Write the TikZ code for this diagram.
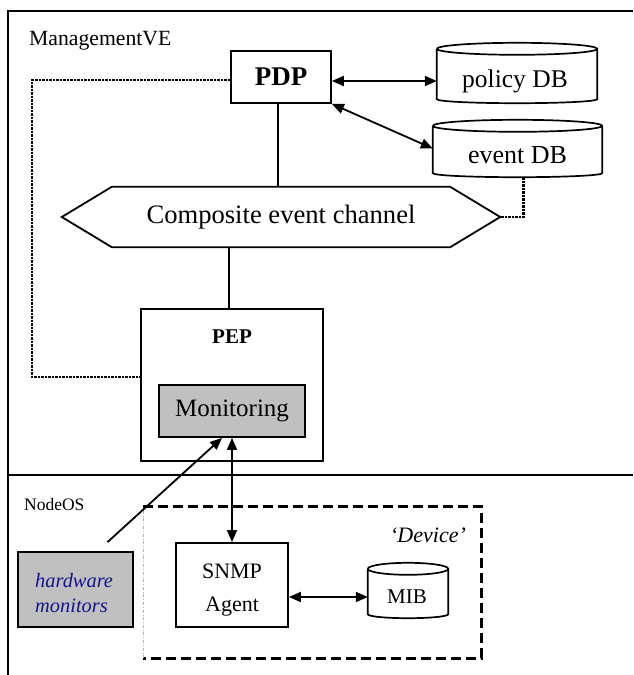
\documentclass[tikz,border=0pt]{standalone}
\usepackage{fontspec}
\setmainfont{Liberation Serif}
\usetikzlibrary{arrows.meta,calc}
\definecolor{hwblue}{RGB}{20,20,140}
\definecolor{boxgray}{RGB}{192,192,192}

% cylinder outline drawn around a named (invisible) node
\newcommand\dbdraw[1]{%
  \draw[dbline] let \p1=(#1.north west), \p2=(#1.south east), \n1={(\x2-\x1)/2} in
    ({\x1},{\y1-6}) -- ({\x1},{\y2+4})
    arc[start angle=180, end angle=360, x radius=\n1, y radius=4pt]
    -- ({\x2},{\y1-6})
    arc[start angle=0, end angle=180, x radius=\n1, y radius=6pt]
    ({\x1},{\y1-6}) arc[start angle=180, end angle=360, x radius=\n1, y radius=6pt];
}

\begin{document}
\begin{tikzpicture}[x=1pt,y=1pt,
  frame/.style={line width=2.4pt},
  box/.style={draw, line width=1.8pt, inner sep=0pt},
  plain/.style={inner sep=0pt},
  dbline/.style={line width=1.7pt},
  link/.style={line width=1.8pt},
  tip/.style={-{Triangle[length=12pt,width=10pt]}},
  dlink/.style={line width=1.8pt, {Triangle[length=12pt,width=10pt]}-{Triangle[length=12pt,width=10pt]}},
  dotline/.style={line width=2.4pt, dash pattern=on 2.5pt off 1pt},
  devline/.style={line width=2.8pt, dash pattern=on 10pt off 5pt},
  devedge/.style={line width=0.6pt, gray!60, dash dot},
]
\useasboundingbox (0,0) rectangle (633,-675);

% frame and divider between the two layers
\draw[frame] (8,-675) -- (8,-11) -- (633,-11);
\draw[frame] (8,-475) -- (633,-475);
\node[plain, anchor=base west, font=\fontsize{21.7}{26}\selectfont] (mve) at (29,-45) {ManagementVE};
\node[plain, anchor=base west, font=\fontsize{17.5}{21}\selectfont] (nos) at (24,-510) {NodeOS};

% upper layer
\node[box, minimum width=100pt, minimum height=52pt, font=\fontsize{27}{32}\selectfont\bfseries] (pdp) at (281,-77) {PDP};

\node[plain, minimum width=160pt, minimum height=60pt] (pdb) at (517,-73) {};
\dbdraw{pdb}
\node[plain, anchor=base, font=\fontsize{25.5}{30}\selectfont] (pdbtxt) at (515,-87) {policy DB};

\node[plain, minimum width=169pt, minimum height=57pt] (edb) at (517.5,-148.5) {};
\dbdraw{edb}
\node[plain, anchor=base, font=\fontsize{26}{31}\selectfont] (edbtxt) at (517.5,-163) {event DB};

\node[plain, minimum width=438pt, minimum height=60pt, font=\fontsize{26.6}{32}\selectfont] (chan) at (281,-217) {Composite event channel};
\draw[box] (chan.west) -- ([xshift=50pt]chan.north west) -- ([xshift=-50pt]chan.north east)
  -- (chan.east) -- ([xshift=-50pt]chan.south east) -- ([xshift=50pt]chan.south west) -- cycle;

\node[box, minimum width=182pt, minimum height=152pt] (pep) at (232,-385) {};
\node[plain, anchor=base, font=\fontsize{21}{25}\selectfont\bfseries] (peptxt) at (232,-343) {PEP};
\node[box, fill=boxgray, minimum width=146pt, minimum height=52pt, font=\fontsize{25}{30}\selectfont] (mon) at (232,-411) {Monitoring};

% connectors of the upper layer
\draw[dlink] ([yshift=-4pt]pdp.east) -- ([yshift=-4pt]pdp.east -| pdb.west);
\draw[dlink] (pdp.south east) -- (edb.west);
\draw[link] ([xshift=-3pt]pdp.south) -- ([xshift=-3pt]pdp.south |- chan.north);
\draw[link] ([xshift=-3pt]pep.north) -- ([xshift=-3pt]pep.north |- chan.south);
\draw[dotline] ([xshift=6pt]edb.south) |- (chan.east);
\draw[dotline] ([yshift=-3pt]pdp.west) -- ++(-198pt,0) |- ([yshift=8pt]pep.west);

% lower layer
\node[plain, minimum width=338pt, minimum height=151pt] (dev) at (312,-582.5) {};
\draw[devline] (dev.north west) -- (dev.north east) -- (dev.south east) -- (dev.south west);
\draw[devedge] (dev.south west) -- (dev.north west);
\node[plain, anchor=base, font=\fontsize{22}{26}\selectfont\itshape] (devtxt) at (428,-542) {‘Device’};

\node[box, minimum width=112pt, minimum height=84pt] (snmp) at (232,-585) {};
\node[plain, align=center, font=\fontsize{22}{33}\selectfont] (snmptxt) at (232,-590) {SNMP\\Agent};

\node[plain, minimum width=80pt, minimum height=55pt] (mib) at (408,-590.5) {};
\dbdraw{mib}
\node[plain, anchor=base, font=\fontsize{21}{25}\selectfont] (mibtxt) at (407,-603) {MIB};

\node[box, fill=boxgray, minimum width=115pt, minimum height=75pt] (hw) at (75.5,-589.5) {};
\node[plain, anchor=west, align=left, text=hwblue, font=\fontsize{20.4}{25}\selectfont\itshape] (hwtxt) at (35,-593.5) {hardware\\monitors};
\coordinate (hwout) at ([xshift=32pt,yshift=9pt]hw.north);

% connectors of the lower layer
\draw[dlink] (mon.south) -- (snmp.north);
\draw[link, tip] (hwout) -- ([xshift=-10pt]mon.south);
\draw[dlink] ([yshift=-12pt]snmp.east) -- ([yshift=-12pt]snmp.east -| mib.west);
\end{tikzpicture}
\end{document}
